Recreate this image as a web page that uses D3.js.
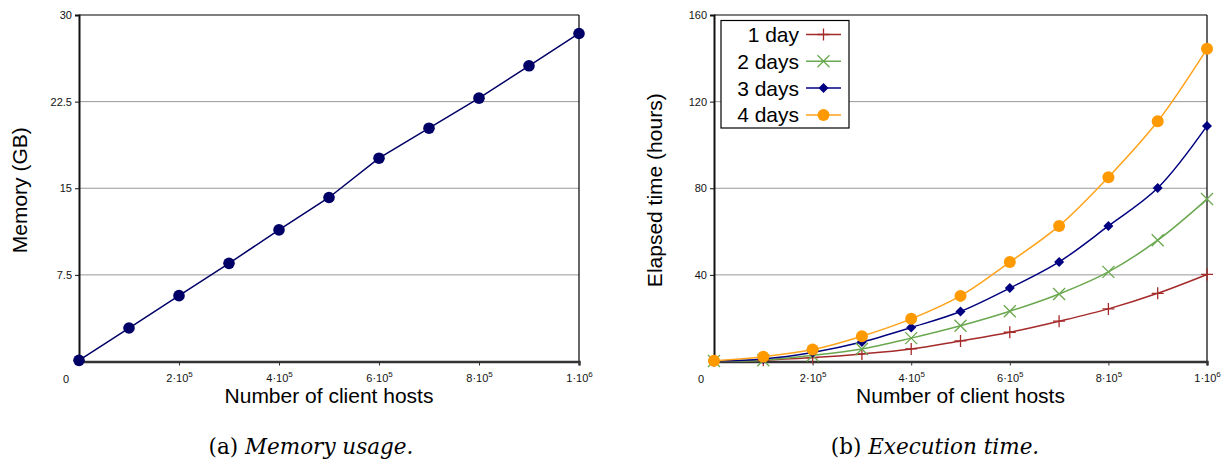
<!DOCTYPE html>
<html><head><meta charset="utf-8">
<script src="https://cdn.jsdelivr.net/npm/d3@7"></script>
<style>body{margin:0;background:#fff}svg{display:block}</style>
</head><body>
<svg id="c" width="1231" height="466"></svg>
<script>
const hosts = [0, 1e5, 2e5, 3e5, 4e5, 5e5, 6e5, 7e5, 8e5, 9e5, 1e6];
const memoryGB = [0.1, 2.9, 5.7, 8.5, 11.4, 14.2, 17.6, 20.2, 22.8, 25.6, 28.4];
const seriesNames = ["1 day", "2 days", "3 days", "4 days"];
const day1 = [0.2, 0.6, 1.8, 3.5, 5.8, 9.5, 13.5, 18.6, 24.3, 31.5, 40.2];
const day2 = [0.2, 0.6, 2.8, 5.8, 10.8, 16.5, 23.2, 31.2, 41.4, 56.0, 75.0];
const day3 = [0.3, 1.2, 4.2, 9.0, 15.7, 23.1, 33.9, 46.0, 62.6, 80.1, 108.8];
const day4 = [0.4, 2.2, 5.5, 11.7, 19.7, 30.3, 45.9, 62.6, 85.1, 110.9, 144.4];
const xTickValues = [2e5, 4e5, 6e5, 8e5, 1e6];
const xTickMant = ["2", "4", "6", "8", "1"];
const xTickExp = ["5", "5", "5", "5", "6"];
const memTicks = [7.5, 15, 22.5, 30];
const timeTicks = [40, 80, 120, 160];
const captions = ["(a) ", "Memory usage.", "(b) ", "Execution time."];

const svg = d3.select("#c");
const SANS = "'Liberation Sans', Arial, sans-serif";
const plotTop = 15, plotBottom = 361.5;
const TITLE_FS = 21;

function panel(left, right, yMax, yTicks, yTitle) {
  const g = svg.append("g");
  const x = d3.scaleLinear().domain([0, 1e6]).range([left, right]);
  const y = d3.scaleLinear().domain([0, yMax]).range([plotBottom, plotTop]);
  g.selectAll("line.grid").data(yTicks.filter(v => v < yMax)).join("line")
    .attr("x1", left).attr("x2", right).attr("y1", d => y(d)).attr("y2", d => y(d))
    .attr("stroke", "#999").attr("stroke-width", 1);
  g.append("line").attr("x1", left).attr("x2", right).attr("y1", plotTop).attr("y2", plotTop).attr("stroke", "#000").attr("stroke-width", 1.2);
  g.append("line").attr("x1", right).attr("x2", right).attr("y1", plotTop).attr("y2", plotBottom).attr("stroke", "#000").attr("stroke-width", 1.2);
  const ya = d3.axisLeft(y).tickValues(yTicks).tickSize(4).tickFormat(d => d);
  const yg = g.append("g").attr("transform", `translate(${left},0)`).call(ya);
  yg.select(".domain").attr("stroke", "#111").attr("stroke-width", 2);
  yg.selectAll(".tick line").attr("stroke", "#111");
  yg.selectAll(".tick text").attr("font-family", SANS).attr("font-size", 11).attr("fill", "#111").attr("x", -7);
  const xa = d3.axisBottom(x).tickValues(xTickValues).tickSize(4).tickFormat("");
  const xg = g.append("g").attr("transform", `translate(0,${plotBottom})`).call(xa);
  xg.select(".domain").attr("stroke", "#333").attr("stroke-width", 2.5);
  xg.selectAll(".tick line").attr("stroke", "#333");
  xg.selectAll(".tick").each(function(d, i) {
    const t = d3.select(this).append("text").attr("y", 20).attr("text-anchor", "middle")
      .attr("font-family", SANS).attr("font-size", 11).attr("fill", "#111");
    t.append("tspan").text(xTickMant[i] + "\u00b710");
    t.append("tspan").attr("dy", -5).attr("font-size", 8).text(xTickExp[i]);
  });
  g.append("text").attr("x", left - 13).attr("y", plotBottom + 21).attr("text-anchor", "middle")
    .attr("font-family", SANS).attr("font-size", 11).attr("fill", "#111").text("0");
  g.append("text").attr("x", (left + right) / 2).attr("y", plotBottom + 41).attr("text-anchor", "middle")
    .attr("font-family", SANS).attr("font-size", TITLE_FS).attr("fill", "#000").text("Number of client hosts");
  g.append("text").attr("transform", `translate(${left - 52},${(plotTop + plotBottom) / 2 + 2}) rotate(-90)`)
    .attr("text-anchor", "middle").attr("font-family", SANS).attr("font-size", TITLE_FS).attr("fill", "#000").text(yTitle);
  return {g, x, y};
}

function marker(sel, type, color, size) {
  if (type === "circle") return sel.append("circle").attr("r", size).attr("fill", color);
  if (type === "diamond") return sel.append("path").attr("d", `M0,${-size}L${size},0L0,${size}L${-size},0Z`).attr("fill", color);
  if (type === "plus") return sel.append("path").attr("d", `M${-size},0H${size}M0,${-size}V${size}`).attr("stroke", color).attr("stroke-width", 1.3).attr("fill", "none");
  if (type === "cross") return sel.append("path").attr("d", `M${-size},${-size}L${size},${size}M${-size},${size}L${size},${-size}`).attr("stroke", color).attr("stroke-width", 1.3).attr("fill", "none");
}

const A = panel(79, 579, 30, memTicks, "Memory (GB)");
const memLine = d3.line().x((d, i) => A.x(hosts[i])).y(d => A.y(d));
A.g.append("path").attr("d", memLine(memoryGB)).attr("fill", "none").attr("stroke", "#000066").attr("stroke-width", 1.5);
memoryGB.forEach((v, i) => {
  const m = A.g.append("g").attr("transform", `translate(${A.x(hosts[i])},${A.y(v)})`);
  marker(m, "circle", "#000066", 5.8);
});

const B = panel(714, 1207, 160, timeTicks, "Elapsed time (hours)");
const series = [day1, day2, day3, day4];
const colors = ["#a52a2a", "#6aa84f", "#000080", "#ff9900"];
const lineColors = ["#a52a2a", "#6aa84f", "#000080", "#ffa31a"];
const markers = ["plus", "cross", "diamond", "circle"];
const msize = [6, 6, 5, 6];
const curve = d3.line().x((d, i) => B.x(hosts[i])).y(d => B.y(d)).curve(d3.curveCatmullRom.alpha(0.5));
series.forEach((s, k) => {
  B.g.append("path").attr("d", curve(s)).attr("fill", "none").attr("stroke", lineColors[k]).attr("stroke-width", 1.5);
});
series.forEach((s, k) => {
  s.forEach((v, i) => {
    const m = B.g.append("g").attr("transform", `translate(${B.x(hosts[i])},${B.y(v)})`);
    marker(m, markers[k], colors[k], msize[k]);
  });
});
const lg = B.g.append("g");
lg.append("rect").attr("x", 721).attr("y", 20.5).attr("width", 128).attr("height", 107.5)
  .attr("fill", "#fff").attr("stroke", "#000").attr("stroke-width", 1.2);
seriesNames.forEach((n, k) => {
  const cy = 34.5 + k * 26.8;
  lg.append("text").attr("x", 799).attr("y", cy + 7.5).attr("text-anchor", "end")
    .attr("font-family", SANS).attr("font-size", TITLE_FS).attr("fill", "#000").text(n);
  lg.append("line").attr("x1", 806).attr("x2", 841).attr("y1", cy).attr("y2", cy).attr("stroke", lineColors[k]).attr("stroke-width", 1.5);
  const m = lg.append("g").attr("transform", `translate(823.5,${cy})`);
  marker(m, markers[k], colors[k], msize[k]);
});

const SERIF = "'DejaVu Serif', serif";
[[311, 0], [935, 2]].forEach(([cx, k]) => {
  const t = svg.append("text").attr("x", cx).attr("y", 454).attr("text-anchor", "middle")
    .attr("font-family", SERIF).attr("font-size", 21.5).attr("fill", "#000");
  t.append("tspan").text(captions[k]);
  t.append("tspan").attr("font-style", "italic").text(captions[k + 1]);
});
</script>
</body></html>
